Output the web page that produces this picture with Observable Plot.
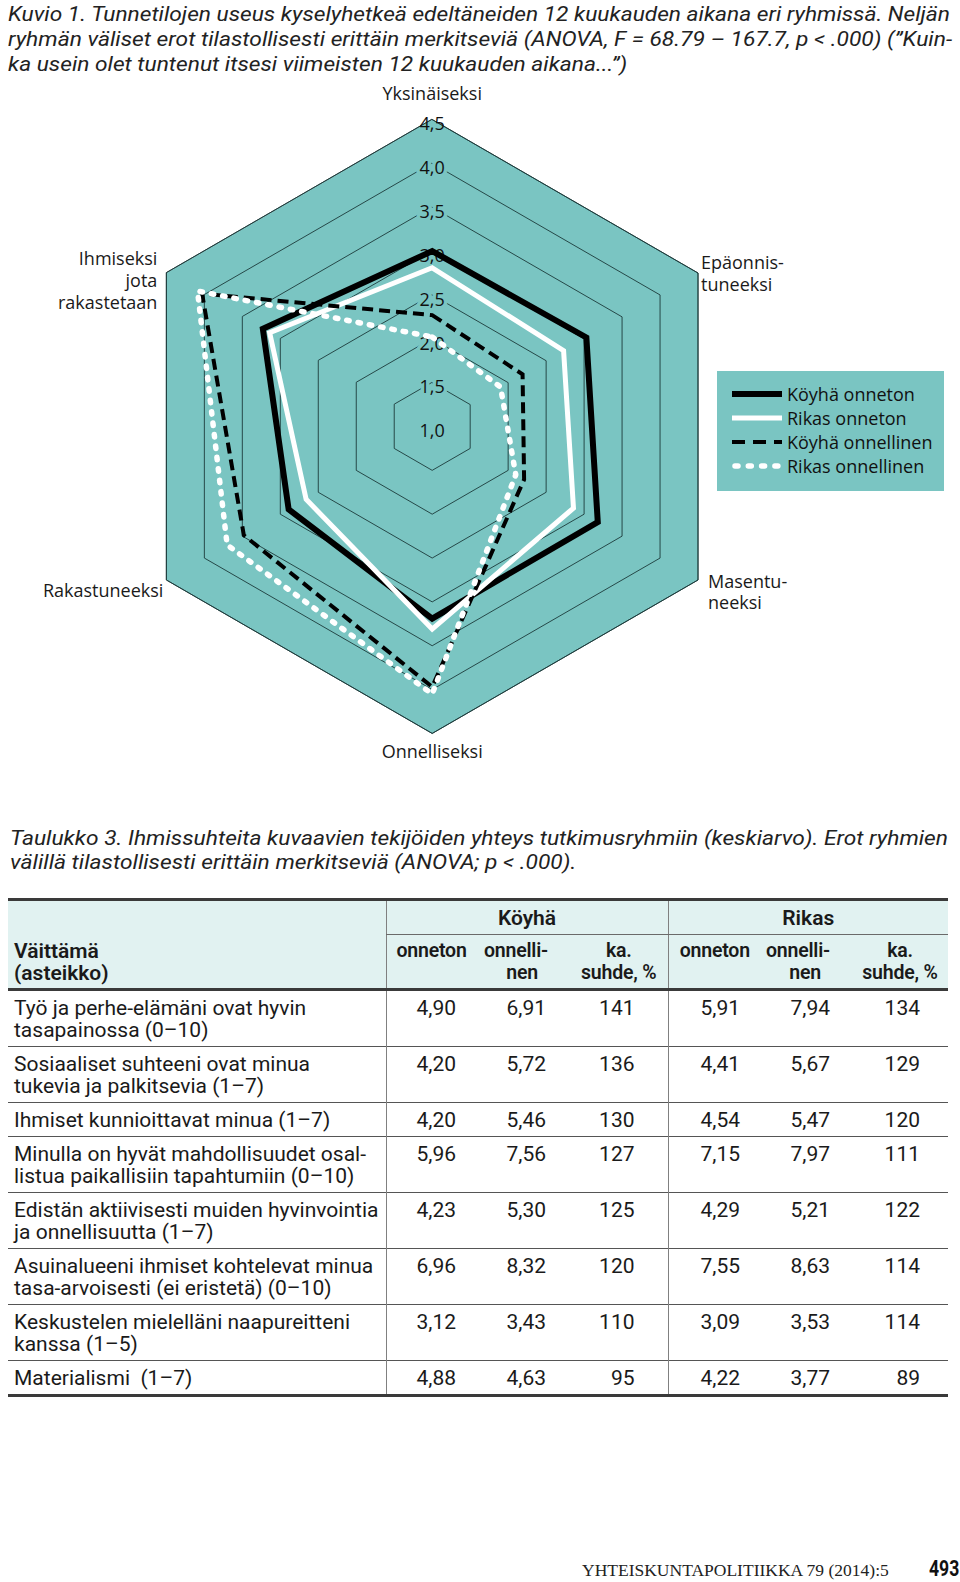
<!DOCTYPE html>
<html>
<head>
<meta charset="utf-8">
<script src="https://cdn.jsdelivr.net/npm/d3@7"></script>
<script src="https://cdn.jsdelivr.net/npm/@observablehq/plot@0.6"></script>
<style>
  html, body { margin: 0; padding: 0; background: #fff; }
  body { width: 960px; height: 1582px; position: relative; overflow: hidden; color: #1a1a1a; }
  .cap { position: absolute; font-family: Roboto, "Liberation Sans", sans-serif; font-style: italic; font-size: 21px; line-height: 25px; color: #222; }
  .cap .ln { display: block; white-space: nowrap; width: max-content; transform-origin: 0 50%; }
  #chart { position: absolute; left: 0; top: 80px; }
  #legend { position: absolute; left: 717px; top: 371px; width: 227px; height: 120px; background: #7ac5c2;
            font-family: "Open Sans", "Noto Sans", sans-serif; font-size: 18px; color: #111; }
  #legend .row { position: absolute; left: 0; height: 24px; line-height: 24px; white-space: nowrap; }
  #legend svg { position: absolute; left: 15px; top: 6px; }
  #legend span { position: absolute; left: 70px; top: 0; }
  #tbl { position: absolute; left: 8px; top: 898px; width: 940px; border-collapse: collapse; table-layout: fixed;
         font-family: Roboto, "Liberation Sans", sans-serif; font-size: 21px; line-height: 22px; color: #1a1a1a; }
  #tbl th, #tbl td { padding: 0; font-weight: normal; white-space: nowrap; }
  #tbl thead th { background: #e1f2f1; font-weight: 600; }
  #tbl thead tr.grp-row th { border-top: 3px solid #3a3a3a; height: 33px; }
  #tbl th.grp { border-bottom: 1px solid #6a6a6a; text-align: center; vertical-align: middle; }
  #tbl tr.sub th { vertical-align: top; padding-top: 5px; padding-bottom: 4px; border-bottom: 3px solid #3a3a3a; font-size: 19.5px; letter-spacing: -0.2px; }
  #tbl th.stmt-h { text-align: left; vertical-align: bottom; padding-left: 6px; padding-bottom: 4px; border-bottom: 3px solid #3a3a3a; border-top: 3px solid #3a3a3a; }
  #tbl .vl { border-left: 1px solid #808080; }
  #tbl tbody td { padding-top: 6px; padding-bottom: 5px; vertical-align: top; border-top: 1.5px solid #555; }
  #tbl tbody tr:last-child td { border-bottom: 3px solid #3a3a3a; }
  #tbl td.st { padding-left: 6px; text-align: left; }
  #tbl td.v { text-align: right; }
  .pr10 { padding-right: 10px !important; }
  .pr8 { padding-right: 8px !important; }
  .pr33 { padding-right: 33px !important; }
  .pr28 { padding-right: 28px !important; }
  #tbl th.cen { text-align: center; }
  #tbl th.rt { text-align: right; }
  #footer { position: absolute; left: 582px; top: 1559px; font-family: "Liberation Serif", "DejaVu Serif", serif; font-size: 17.5px; line-height: 22px; color: #222; white-space: nowrap; }
  #pagenum { position: absolute; left: 929px; top: 1557px; font-family: Roboto, sans-serif; font-weight: 700; font-size: 22px; line-height: 24px; color: #111; transform: scaleX(0.8); transform-origin: 0 50%; white-space: nowrap; }
</style>
</head>
<body>
<div class="cap" id="title" style="left:8px; top:2px;">
  <span class="ln" id="t1">Kuvio 1. Tunnetilojen useus kyselyhetkeä edeltäneiden 12 kuukauden aikana eri ryhmissä. Neljän</span>
  <span class="ln" id="t2">ryhmän väliset erot tilastollisesti erittäin merkitseviä (ANOVA, F = 68.79 – 167.7, p &lt; .000) (”Kuin-</span>
  <span class="ln" id="t3">ka usein olet tuntenut itsesi viimeisten 12 kuukauden aikana...”)</span>
</div>
<div id="chart"></div>
<div id="legend"></div>
<div class="cap" id="caption" style="left:10px; top:826px; line-height:24px;">
  <span class="ln" id="c1">Taulukko 3. Ihmissuhteita kuvaavien tekijöiden yhteys tutkimusryhmiin (keskiarvo). Erot ryhmien</span>
  <span class="ln" id="c2">välillä tilastollisesti erittäin merkitseviä (ANOVA; p &lt; .000).</span>
</div>
<table id="tbl"></table>
<div id="footer">YHTEISKUNTAPOLITIIKKA 79 (2014):5</div>
<div id="pagenum">493</div>

<script>
// ---------- Radar chart data ----------
const axes = ["Yksinäiseksi", "Epäonnistuneeksi", "Masentuneeksi", "Onnelliseksi", "Rakastuneeksi", "Ihmiseksi jota rakastetaan"];
const axisLabelText = ["Yksinäiseksi", "Epäonnis-\ntuneeksi", "Masentu-\nneeksi", "Onnelliseksi", "Rakastuneeksi", "Ihmiseksi\njota\nrakastetaan"];
const groups = ["Köyhä onneton", "Rikas onneton", "Köyhä onnellinen", "Rikas onnellinen"];
const koyhaOnneton     = [3.00, 3.03, 3.18, 3.19, 2.89, 3.23];
const rikasOnneton     = [2.81, 2.73, 2.86, 3.31, 2.66, 3.14];
const koyhaOnnellinen  = [2.27, 2.19, 2.21, 3.97, 3.48, 4.03];
const rikasOnnellinen  = [2.02, 1.90, 2.10, 4.05, 3.70, 4.09];
const tickValues = [1.0, 1.5, 2.0, 2.5, 3.0, 3.5, 4.0, 4.5];
const tickLabels = ["1,0", "1,5", "2,0", "2,5", "3,0", "3,5", "4,0", "4,5"];

// ---------- Table data ----------
const statements = [
  "Työ ja perhe-elämäni ovat hyvin\ntasapainossa (0–10)",
  "Sosiaaliset suhteeni ovat minua\ntukevia ja palkitsevia (1–7)",
  "Ihmiset kunnioittavat minua (1–7)",
  "Minulla on hyvät mahdollisuudet osal-\nlistua paikallisiin tapahtumiin (0–10)",
  "Edistän aktiivisesti muiden hyvinvointia\nja onnellisuutta (1–7)",
  "Asuinalueeni ihmiset kohtelevat minua\ntasa-arvoisesti (ei eristetä) (0–10)",
  "Keskustelen mielelläni naapureitteni\nkanssa (1–5)",
  "Materialismi\u00a0 (1–7)"
];
const tKoyhaOnneton    = [4.90, 4.20, 4.20, 5.96, 4.23, 6.96, 3.12, 4.88];
const tKoyhaOnnellinen = [6.91, 5.72, 5.46, 7.56, 5.30, 8.32, 3.43, 4.63];
const tKoyhaSuhde      = [141, 136, 130, 127, 125, 120, 110, 95];
const tRikasOnneton    = [5.91, 4.41, 4.54, 7.15, 4.29, 7.55, 3.09, 4.22];
const tRikasOnnellinen = [7.94, 5.67, 5.47, 7.97, 5.21, 8.63, 3.53, 3.77];
const tRikasSuhde      = [134, 129, 120, 111, 122, 114, 114, 89];

// ---------- Chart ----------
const W = 960, H = 700, CX = 431.7, CY = 346, UNIT = 87.7;
const BASE = tickValues[0];
const TEAL = "#7ac5c2", GRID = "#1c3a3a";
const seriesValues = [koyhaOnneton, rikasOnneton, koyhaOnnellinen, rikasOnnellinen];

function polar(v, i) {
  const a = i * Math.PI / 3, r = v - BASE;
  return {x: r * Math.sin(a), y: r * Math.cos(a)};
}
const outerV = tickValues[tickValues.length - 1];
const outerPts = axes.map((a, i) => ({axis: a, ...polar(outerV, i)}));
const ringPts = tickValues.slice(1).flatMap(t => axes.map((a, i) => ({ring: t, ...polar(t, i)})));
const tickData = tickValues.map((t, k) => ({t, label: tickLabels[k], ...polar(t, 0)}));
const series = groups.map((g, gi) => seriesValues[gi].map((v, i) => ({group: g, axis: axes[i], value: v, ...polar(v, i)})));

const styles = {
  "Köyhä onneton":    {stroke: "#000", strokeWidth: 6,   strokeLinecap: "butt", strokeLinejoin: "miter", strokeMiterlimit: 10},
  "Rikas onneton":    {stroke: "#fff", strokeWidth: 5,   strokeLinecap: "butt", strokeLinejoin: "miter", strokeMiterlimit: 10},
  "Köyhä onnellinen": {stroke: "#000", strokeWidth: 4,   strokeLinecap: "butt", strokeLinejoin: "miter", strokeMiterlimit: 10, strokeDasharray: "11,6"},
  "Rikas onnellinen": {stroke: "#fff", strokeWidth: 5.5, strokeLinecap: "round", strokeLinejoin: "round", strokeDasharray: "2.5,9"}
};

const labelPlacement = [
  {textAnchor: "middle", dx: 0,  dy: -25, lineHeight: 1},
  {textAnchor: "start",  dx: 3,  dy: 0,   lineHeight: 1.22},
  {textAnchor: "start",  dx: 10, dy: 11.5,lineHeight: 1.17},
  {textAnchor: "middle", dx: 0,  dy: 19,  lineHeight: 1},
  {textAnchor: "end",    dx: -3, dy: 11,  lineHeight: 1},
  {textAnchor: "end",    dx: -9, dy: 7,   lineHeight: 1.22}
];

const axisLabelMarks = axes.map((a, i) => Plot.text([outerPts[i]], {
  x: "x", y: "y", text: () => axisLabelText[i],
  fontSize: 18, fill: "#1a1a1a", ...labelPlacement[i]
}));

const chart = Plot.plot({
  width: W, height: H, margin: 0,
  x: {domain: [-CX / UNIT, (W - CX) / UNIT], axis: null},
  y: {domain: [-(H - CY) / UNIT, CY / UNIT], axis: null},
  style: {fontFamily: "'Open Sans', 'Noto Sans', sans-serif", background: "transparent", overflow: "visible"},
  marks: [
    Plot.line(outerPts, {x: "x", y: "y", curve: "linear-closed", fill: TEAL, stroke: GRID, strokeWidth: 0.9, strokeLinejoin: "miter", strokeMiterlimit: 10}),
    Plot.line(ringPts, {x: "x", y: "y", z: "ring", curve: "linear-closed", stroke: GRID, strokeWidth: 0.9, strokeLinejoin: "miter", strokeMiterlimit: 10}),
    Plot.text(tickData.filter(d => d.t < outerV), {x: "x", y: "y", text: "label", dy: 5, fontSize: 18, fill: TEAL, stroke: TEAL, strokeWidth: 7}),
    Plot.text(tickData, {x: "x", y: "y", text: "label", dy: 5, fontSize: 18, fill: "#111"}),
    ...series.map((s, gi) => Plot.line(s, {x: "x", y: "y", curve: "linear-closed", ...styles[groups[gi]]})),
    ...axisLabelMarks
  ]
});
document.getElementById("chart").appendChild(chart);

// ---------- Legend ----------
const legend = document.getElementById("legend");
groups.forEach((g, k) => {
  const st = styles[g];
  const row = document.createElement("div");
  row.className = "row";
  row.style.top = (11 + k * 24) + "px";
  row.style.width = "227px";
  row.innerHTML = `<svg width="52" height="12"><line x1="${st.strokeLinecap === "round" ? 3 : 0}" y1="6" x2="${st.strokeLinecap === "round" ? 49 : 50}" y2="6"
      stroke="${st.stroke}" stroke-width="${st.strokeWidth}" stroke-linecap="${st.strokeLinecap}"
      ${st.strokeDasharray ? `stroke-dasharray="${g === "Köyhä onnellinen" ? "13,8" : "3,10.3"}"` : ""}/></svg><span>${g}</span>`;
  legend.appendChild(row);
});

// ---------- Table ----------
const fmt = v => v.toFixed(2).replace(".", ",");
let html = `<colgroup><col style="width:378px"><col style="width:80px"><col style="width:90px"><col style="width:112px"><col style="width:82px"><col style="width:90px"><col style="width:108px"></colgroup>`;
html += `<thead>
<tr class="grp-row"><th class="stmt-h" rowspan="2">Väittämä<br>(asteikko)</th>
<th class="grp vl" colspan="3">Köyhä</th><th class="grp vl" colspan="3">Rikas</th></tr>
<tr class="sub">
<th class="cen vl" style="padding-left:10px">onneton</th>
<th class="rt pr8">onnelli-<br><span style="padding-right:10px">nen</span></th>
<th class="cen" style="padding-left:14px">ka.<br>suhde, %</th>
<th class="cen vl" style="padding-left:11px">onneton</th>
<th class="rt pr10">onnelli-<br><span style="padding-right:9px">nen</span></th>
<th class="cen" style="padding-left:12px">ka.<br>suhde, %</th>
</tr></thead><tbody>`;
statements.forEach((s, i) => {
  html += `<tr><td class="st">${s.replace("\n", "<br>")}</td>
  <td class="v vl pr10">${fmt(tKoyhaOnneton[i])}</td>
  <td class="v pr10">${fmt(tKoyhaOnnellinen[i])}</td>
  <td class="v pr33">${tKoyhaSuhde[i]}</td>
  <td class="v vl pr10">${fmt(tRikasOnneton[i])}</td>
  <td class="v pr10">${fmt(tRikasOnnellinen[i])}</td>
  <td class="v pr28">${tRikasSuhde[i]}</td></tr>`;
});
html += `</tbody>`;
document.getElementById("tbl").innerHTML = html;

// ---------- Fit condensed caption lines ----------
function fit() {
  const fitTo = (id, target) => {
    const el = document.getElementById(id);
    el.style.transform = "none";
    const w = el.getBoundingClientRect().width;
    const s = target / w;
    el.style.transform = `scaleX(${s})`;
    return s;
  };
  const apply = (id, s) => { document.getElementById(id).style.transform = `scaleX(${s})`; };
  const s1 = fitTo("t1", 942);
  fitTo("t2", 944);
  apply("t3", s1);
  const c = fitTo("c1", 938);
  apply("c2", c);
}
fit();
if (document.fonts && document.fonts.ready) document.fonts.ready.then(fit);
</script>
</body>
</html>
